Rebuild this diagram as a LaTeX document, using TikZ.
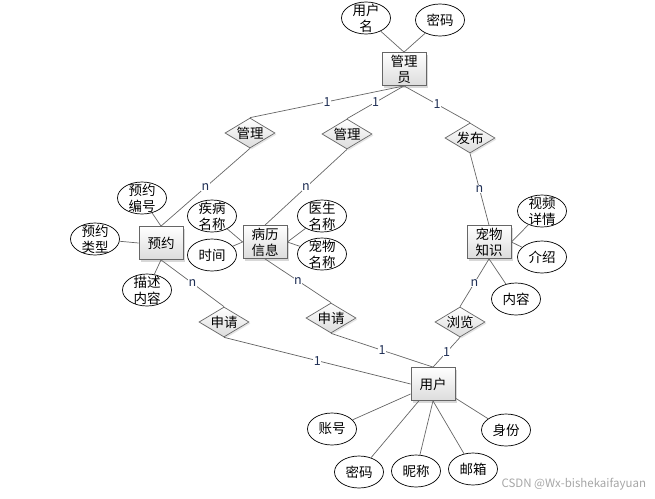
\documentclass[tikz,border=0pt]{standalone}
\usepackage{fontspec}
\setmainfont{Noto Sans CJK SC}
\usetikzlibrary{shapes.geometric,shadows,positioning}
\definecolor{linegray}{HTML}{666666}
\definecolor{boxgray}{HTML}{DCDCDC}
\definecolor{cardblue}{HTML}{1F2F55}
\tikzset{
    entity/.style={rectangle, draw=linegray, line width=0.8pt, top color=white, bottom color=boxgray,
        minimum width=44pt, minimum height=33pt, inner sep=0pt, align=center,
        drop shadow={shadow xshift=2pt, shadow yshift=-2pt, fill=black!30}},
    attrib/.style={ellipse, draw=black, line width=0.7pt, fill=white, minimum width=49pt,
        minimum height=32pt, inner sep=-8pt, align=center},
    relation/.style={diamond, draw=linegray, line width=0.7pt, top color=white, bottom color=boxgray,
        minimum width=50pt, minimum height=30pt, inner sep=0pt, shape aspect=1.67,
        drop shadow={shadow xshift=1.5pt, shadow yshift=-1.5pt, fill=black!20}},
    link/.style={draw=linegray, line width=0.7pt},
    card/.style={midway, fill=white, inner sep=0.5pt, text=cardblue, font=\fontsize{12.5}{12.5}\selectfont}
}

\begin{document}
\begin{tikzpicture}[x=1pt, y=-1pt, font=\fontsize{13.5}{16}\selectfont]
    \useasboundingbox (0,0) rectangle (655,498);

    % Entities
    \node[entity] (admin) at (404,69) {管理\\员};
    \node[entity] (appoint) at (161,243) {预约};
    \node[entity] (record) at (265,242) {病历\\信息};
    \node[entity] (know) at (489,242) {宠物\\知识};
    \node[entity] (user) at (433,384) {用户};

    % Relations
    \node[relation] (manage1) at (250,133) {管理};
    \node[relation] (manage2) at (347,134) {管理};
    \node[relation] (publish) at (470,138) {发布};
    \node[relation] (apply1) at (224,322) {申请};
    \node[relation] (apply2) at (331,318) {申请};
    \node[relation] (browse) at (460,322) {浏览};

    % Attributes
    \node[attrib] (uname) at (366,18) {用户\\名};
    \node[attrib] (apwd) at (440,20) {密码};
    \node[attrib] (apno) at (142,198) {预约\\编号};
    \node[attrib] (aptype) at (95,239) {预约\\类型};
    \node[attrib] (apdesc) at (147,290) {描述\\内容};
    \node[attrib] (disease) at (212,216) {疾病\\名称};
    \node[attrib] (rtime) at (212,255) {时间};
    \node[attrib] (doctor) at (322,216) {医生\\名称};
    \node[attrib] (petname) at (322,254) {宠物\\名称};
    \node[attrib] (video) at (542,211) {视频\\详情};
    \node[attrib] (intro) at (542,257) {介绍};
    \node[attrib] (content) at (516,299) {内容};
    \node[attrib] (account) at (332,429) {账号};
    \node[attrib] (upwd) at (359,472) {密码};
    \node[attrib] (nick) at (416,471) {昵称};
    \node[attrib] (mail) at (473,469) {邮箱};
    \node[attrib] (ident) at (506,430) {身份};

    % attribute lines
    \draw[link] (uname) -- (admin.north);
    \draw[link] (apwd) -- (admin.north);
    \draw[link] (apno) -- (appoint.north);
    \draw[link] (aptype) -- (appoint.west);
    \draw[link] (apdesc) -- (appoint.south);
    \draw[link] (disease) -- (record.west);
    \draw[link] (rtime) -- (record.west);
    \draw[link] (doctor) -- (record.east);
    \draw[link] (petname) -- (record.east);
    \draw[link] (video) -- (know.east);
    \draw[link] (intro) -- (know.east);
    \draw[link] (content) -- (know.south);
    \draw[link] (account) -- (user);
    \draw[link] (upwd) -- (user);
    \draw[link] (nick) -- (user.south);
    \draw[link] (mail) -- (user.south);
    \draw[link] (ident) -- (user);

    % relation edges
    \draw[link] (admin.south) -- node[card] {1} (manage1.north);
    \draw[link] (admin.south) -- node[card] {1} (manage2.north);
    \draw[link] (admin.south) -- node[card] {1} (publish.north);
    \draw[link] (manage1.south) -- node[card] {n} (appoint.north);
    \draw[link] (manage2.south) -- node[card] {n} (record.north);
    \draw[link] (publish.south) -- node[card] {n} (know.north);
    \draw[link] (appoint.south) -- node[card] {n} (apply1.north);
    \draw[link] (apply1.south) -- node[card] {1} (user.west);
    \draw[link] (record.south) -- node[card] {n} (apply2.north);
    \draw[link] (apply2.south) -- node[card] {1} (user.north);
    \draw[link] (know.south) -- node[card] {n} (browse.north);
    \draw[link] (browse.south) -- node[card] {1} (user.north);

    % watermark
    \node[anchor=west, text=black!35, font=\fontsize{11.5}{12}\selectfont] (mark) at (498,484) {CSDN @Wx-bishekaifayuan};
\end{tikzpicture}
\end{document}
